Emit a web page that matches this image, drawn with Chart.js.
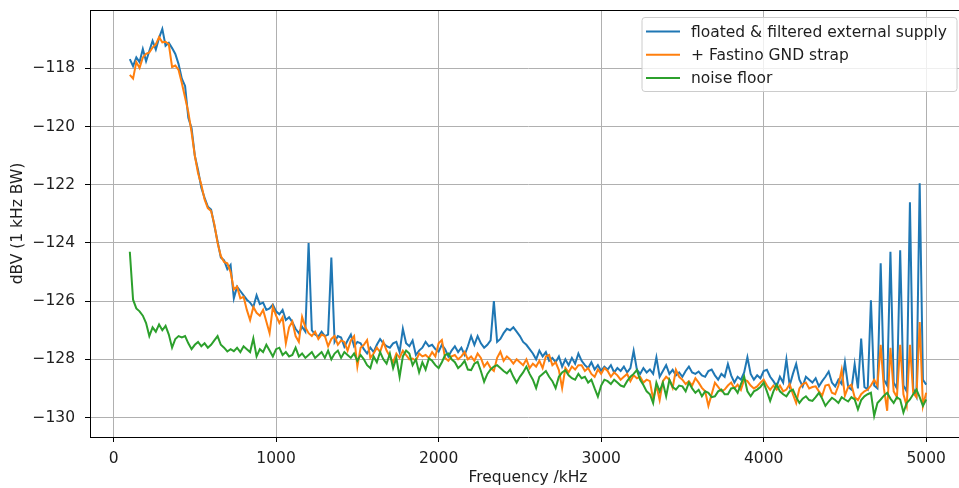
<!DOCTYPE html>
<html>
<head>
<meta charset="utf-8">
<script src="https://cdn.jsdelivr.net/npm/chart.js@4.4.1/dist/chart.umd.min.js"></script>
<style>
  html, body { margin: 0; padding: 0; background: #fff; overflow: hidden; }
  #wrap { width: 966px; height: 488px; }
</style>
</head>
<body>
<div id="wrap"><canvas id="spectrum" width="966" height="488"></canvas></div>
<script>
// Frequency grid of the spectrum sweep, 100 kHz to 5 MHz in 20 kHz steps
const freqKHz = [];
for (let f = 100; f <= 5000; f += 20) freqKHz.push(f);

// Noise level in dBV (1 kHz BW), one value per frequency bin
const floatedSupply = [
  -117.68, -117.92, -117.62, -117.78, -117.33, -117.75, -117.40, -117.05, -117.35, -116.95,
  -116.64, -117.22, -117.12, -117.30, -117.50, -117.85, -118.35, -118.60, -119.70, -120.05,
  -121.00, -121.50, -122.10, -122.45, -122.75, -122.85, -123.40, -123.95, -124.50, -124.60,
  -124.90, -124.75, -125.90, -125.50, -125.65, -125.80, -125.95, -126.05, -126.20, -125.80,
  -126.10, -126.05, -126.30, -126.25, -126.12, -126.35, -126.45, -126.30, -126.65, -126.55,
  -126.72, -126.95, -127.10, -126.88, -127.05, -124.00, -127.00, -127.15, -127.22, -127.05,
  -127.20, -127.15, -124.50, -127.40, -127.20, -127.25, -127.57, -127.35, -127.15, -127.55,
  -127.40, -127.45, -127.65, -127.80, -127.60, -127.75, -127.50, -127.30, -127.45, -127.55,
  -127.60, -127.45, -127.40, -127.75, -126.95, -127.45, -127.55, -127.35, -127.85, -127.70,
  -127.60, -127.40, -127.55, -127.50, -127.65, -127.74, -127.50, -127.65, -127.90, -127.70,
  -127.55, -127.75, -127.60, -127.85, -127.55, -127.20, -127.50, -127.20, -127.45, -127.60,
  -127.50, -127.35, -126.00, -127.40, -127.30, -127.10, -126.95, -127.00, -126.90, -127.05,
  -127.20, -127.40, -127.50, -127.65, -127.80, -128.00, -127.70, -127.90, -127.75, -128.05,
  -127.95, -128.10, -127.90, -128.25, -128.00, -128.20, -127.95, -128.15, -127.80, -128.05,
  -128.20, -128.30, -128.10, -128.35, -128.20, -128.40, -128.25, -128.35, -128.20, -128.45,
  -128.30, -128.40, -128.25, -128.45, -128.30, -127.71, -128.35, -128.50, -128.30, -128.45,
  -128.35, -128.50, -127.93, -128.60, -128.40, -128.20, -128.50, -128.36, -128.55, -128.45,
  -128.60, -128.40, -128.25, -128.45, -128.50, -128.42, -128.55, -128.60, -128.40, -128.35,
  -128.55, -128.70, -128.50, -128.60, -128.16, -128.55, -128.80, -128.60, -128.70, -128.45,
  -127.93, -128.50, -128.70, -128.55, -128.65, -128.40, -128.36, -128.60, -128.75, -128.93,
  -128.60, -128.80, -128.00, -128.90, -128.50, -128.16, -128.70, -128.93, -128.60, -128.70,
  -128.80, -128.65, -128.93, -128.75, -128.60, -128.42, -128.80, -128.93, -128.70, -128.85,
  -128.10, -128.95, -129.04, -128.17, -129.00, -127.29, -128.95, -129.04, -125.97, -128.90,
  -129.00, -124.70, -128.70, -128.90, -124.30, -128.80, -129.00, -124.25, -128.90, -129.10,
  -122.60, -129.00, -129.27, -121.95, -128.70, -128.87
];

const gndStrap = [
  -118.22, -118.35, -117.78, -117.98, -117.62, -117.50, -117.45, -117.28, -117.17, -116.92,
  -117.10, -117.08, -117.17, -117.95, -117.90, -118.05, -118.50, -119.00, -119.50, -120.20,
  -121.00, -121.60, -122.00, -122.50, -122.80, -122.90, -123.35, -124.00, -124.45, -124.65,
  -124.70, -125.00, -125.60, -125.50, -125.90, -125.85, -126.30, -126.65, -126.20, -126.40,
  -126.50, -126.30, -126.70, -127.10, -126.20, -126.50, -126.75, -126.55, -127.45, -126.90,
  -126.70, -127.20, -127.40, -126.54, -126.90, -127.10, -127.20, -127.05, -127.30, -127.15,
  -127.20, -127.55, -127.30, -127.20, -127.50, -127.35, -127.40, -127.70, -127.35, -127.20,
  -128.25, -127.60, -127.50, -127.34, -127.95, -127.80, -127.60, -127.75, -127.40, -127.70,
  -127.90, -128.10, -127.80, -127.95, -127.70, -127.85, -128.00, -127.97, -128.05, -127.80,
  -127.90, -127.85, -127.95, -127.75, -127.90, -127.45, -127.34, -127.95, -128.05, -127.90,
  -127.85, -128.00, -127.90, -127.75, -128.00, -127.90, -128.05, -127.80, -127.95, -128.25,
  -128.10, -128.30, -128.40, -127.95, -127.74, -128.05, -127.90, -128.00, -128.15, -128.00,
  -128.10, -128.20, -128.00, -128.30, -128.15, -128.25, -128.05, -128.30, -127.90, -127.85,
  -128.20, -128.10, -128.37, -128.99, -128.30, -128.45, -128.25, -128.35, -128.20, -128.20,
  -128.40, -128.30, -128.50, -128.60, -128.35, -128.50, -128.30, -128.40, -128.60, -128.45,
  -128.55, -128.70, -128.60, -128.50, -128.75, -128.55, -128.65, -128.60, -128.80, -128.70,
  -128.75, -129.38, -128.90, -129.40, -128.75, -128.60, -128.70, -128.98, -128.36, -128.60,
  -128.70, -128.85, -128.75, -128.90, -128.65, -128.80, -128.98, -129.10, -129.60, -129.20,
  -128.80, -128.95, -129.10, -129.04, -128.90, -128.80, -129.00, -128.87, -129.05, -128.70,
  -128.75, -128.90, -129.00, -128.93, -128.80, -128.70, -128.90, -129.05, -128.90, -129.04,
  -128.90, -129.10, -129.04, -128.85, -129.20, -129.50, -129.00, -128.85, -128.80, -129.00,
  -128.95, -128.93, -129.10, -129.25, -128.90, -128.87, -129.15, -129.20, -128.90, -128.36,
  -129.25, -128.95, -128.87, -129.30, -129.40, -129.20, -129.10, -129.04, -128.90, -128.70,
  -128.90, -127.50, -129.00, -129.77, -127.60, -129.10, -129.30, -127.50, -129.20, -129.60,
  -127.50, -129.15, -129.30, -126.72, -129.60, -129.15
];

const noiseFloor = [
  -124.30, -125.95, -126.25, -126.35, -126.50, -126.75, -127.20, -126.90, -127.05, -126.80,
  -127.00, -126.85, -127.15, -127.60, -127.30, -127.20, -127.25, -127.20, -127.45, -127.65,
  -127.50, -127.40, -127.55, -127.45, -127.60, -127.50, -127.35, -127.20, -127.50, -127.60,
  -127.73, -127.65, -127.72, -127.60, -127.75, -127.55, -127.65, -127.75, -127.28, -127.90,
  -127.65, -127.75, -127.50, -127.70, -127.90, -127.65, -127.60, -127.85, -127.75, -127.90,
  -127.85, -127.60, -127.90, -127.80, -127.95, -127.85, -127.75, -127.95, -127.85, -127.75,
  -127.95, -127.70, -128.00, -127.80, -127.70, -127.95, -127.75, -127.85, -127.95, -127.80,
  -128.05, -127.85, -128.00, -128.20, -128.30, -127.90, -128.10, -127.75, -128.00, -128.15,
  -127.80, -128.30, -127.95, -128.60, -127.90, -127.70, -127.80, -128.20, -128.00, -128.45,
  -128.10, -128.35, -127.97, -128.05, -128.20, -128.30, -128.10, -127.85, -127.80, -128.00,
  -128.10, -128.30, -128.20, -128.05, -128.35, -128.37, -128.15, -128.08, -128.40, -128.77,
  -128.50, -128.35, -128.25, -128.20, -128.30, -128.40, -128.48, -128.35, -128.60, -128.80,
  -128.60, -128.45, -128.25, -128.50, -128.70, -128.99, -128.60, -128.50, -128.40, -128.60,
  -128.75, -128.99, -128.60, -128.45, -128.37, -128.55, -128.65, -128.70, -128.50, -128.65,
  -128.60, -128.80, -128.70, -129.00, -129.28, -128.90, -128.70, -128.75, -128.85, -128.70,
  -128.80, -128.90, -128.94, -128.75, -128.60, -128.50, -128.37, -128.70, -128.88, -129.10,
  -129.20, -129.50, -128.80, -129.10, -128.80, -129.27, -128.70, -128.95, -129.04, -128.90,
  -128.93, -129.10, -128.80, -129.00, -129.15, -129.05, -129.27, -129.10, -129.15, -129.30,
  -129.27, -129.10, -129.04, -129.20, -129.20, -129.00, -128.98, -129.15, -128.85, -128.59,
  -129.10, -129.27, -129.10, -129.04, -128.95, -128.80, -129.10, -129.43, -129.10, -128.87,
  -129.10, -129.20, -129.27, -129.10, -129.04, -129.30, -129.50, -129.35, -129.27, -129.40,
  -129.43, -129.30, -129.15, -129.35, -129.60, -129.45, -129.32, -129.40, -129.50, -129.30,
  -129.38, -129.45, -129.30, -129.38, -129.72, -129.40, -129.27, -129.20, -129.15, -129.94,
  -129.50, -129.38, -129.25, -129.15, -129.35, -129.50, -129.30, -129.38, -129.83, -129.50,
  -129.38, -129.20, -129.04, -129.30, -129.60, -129.38
];

const seriesLabels = ['floated & filtered external supply', '+ Fastino GND strap', 'noise floor'];
const seriesColors = ['#1f77b4', '#ff7f0e', '#2ca02c'];

const xTickValues = [0, 1000, 2000, 3000, 4000, 5000];
const yTickValues = [-130, -128, -126, -124, -122, -120, -118];

const FONT = 'DejaVu Sans';
const FONT_SIZE = 15.5;
const TEXT_COLOR = '#1e1e1e';

function toPoints(values) {
  return values.map((v, i) => ({ x: freqKHz[i], y: v }));
}

// Frame on the top edge of the plot area and the legend box in its upper right corner
const framePlugin = {
  id: 'framePlugin',
  afterDatasetsDraw(chart) {
    const { ctx, chartArea } = chart;
    ctx.save();
    ctx.strokeStyle = '#000';
    ctx.lineWidth = 1;
    ctx.beginPath();
    ctx.moveTo(chartArea.left, chartArea.top + 0.5);
    ctx.lineTo(chartArea.right, chartArea.top + 0.5);
    ctx.stroke();
    ctx.restore();
  },
  afterDraw(chart) {
    const ctx = chart.ctx;
    const x0 = 642, y0 = 17.5, w = 315, h = 74;
    ctx.save();
    ctx.beginPath();
    ctx.roundRect(x0, y0, w, h, 3);
    ctx.fillStyle = 'rgba(255,255,255,0.8)';
    ctx.fill();
    ctx.strokeStyle = '#cccccc';
    ctx.lineWidth = 1;
    ctx.stroke();
    ctx.font = FONT_SIZE + 'px "' + FONT + '"';
    ctx.textBaseline = 'middle';
    ctx.textAlign = 'left';
    chart.data.datasets.forEach((ds, i) => {
      const y = 31.5 + i * 23.3;
      ctx.beginPath();
      ctx.moveTo(646, y);
      ctx.lineTo(680, y);
      ctx.strokeStyle = ds.borderColor;
      ctx.lineWidth = 2;
      ctx.stroke();
      ctx.fillStyle = TEXT_COLOR;
      ctx.fillText(ds.label, 691, y + 1);
    });
    ctx.restore();
  }
};

const seriesValues = [floatedSupply, gndStrap, noiseFloor];

new Chart(document.getElementById('spectrum'), {
  type: 'line',
  data: {
    datasets: seriesValues.map((vals, i) => ({
      label: seriesLabels[i],
      data: toPoints(vals),
      borderColor: seriesColors[i],
      backgroundColor: seriesColors[i],
      borderWidth: 2,
      pointRadius: 0,
      tension: 0,
      fill: false,
      order: 2 - i
    }))
  },
  options: {
    responsive: false,
    animation: false,
    devicePixelRatio: 1,
    layout: { padding: { top: 10, left: 0, right: 0, bottom: 0 } },
    plugins: { legend: { display: false }, tooltip: { enabled: false } },
    scales: {
      x: {
        type: 'linear',
        min: -145,
        max: 5245,
        afterBuildTicks: s => { s.ticks = xTickValues.map(v => ({ value: v })); },
        afterFit: s => { s.height = 51; s.paddingLeft = 0; s.paddingRight = 0; },
        ticks: {
          font: { family: FONT, size: FONT_SIZE },
          color: TEXT_COLOR,
          padding: 8,
          maxRotation: 0,
          autoSkip: false,
          callback: v => String(v)
        },
        grid: { color: '#b0b0b0', lineWidth: 1, tickLength: 5, tickColor: '#000', tickWidth: 1 },
        border: { display: true, color: '#000', width: 1 },
        title: {
          display: true,
          text: 'Frequency /kHz',
          font: { family: FONT, size: FONT_SIZE },
          color: TEXT_COLOR,
          padding: { top: 0, bottom: 1 }
        }
      },
      y: {
        type: 'linear',
        min: -130.67,
        max: -115.99,
        afterBuildTicks: s => { s.ticks = yTickValues.map(v => ({ value: v })); },
        afterFit: s => { s.width = 90; s.paddingTop = 0; s.paddingBottom = 0; },
        ticks: {
          font: { family: FONT, size: FONT_SIZE },
          color: TEXT_COLOR,
          padding: 10,
          autoSkip: false,
          callback: v => (v < 0 ? '\u2212' : '') + Math.abs(v)
        },
        grid: { color: '#b0b0b0', lineWidth: 1, tickLength: 5, tickColor: '#000', tickWidth: 1 },
        border: { display: true, color: '#000', width: 1 },
        title: {
          display: true,
          text: 'dBV (1 kHz BW)',
          font: { family: FONT, size: FONT_SIZE },
          color: TEXT_COLOR,
          padding: { top: 9, bottom: 0 }
        }
      }
    }
  },
  plugins: [framePlugin]
});
</script>
</body>
</html>
